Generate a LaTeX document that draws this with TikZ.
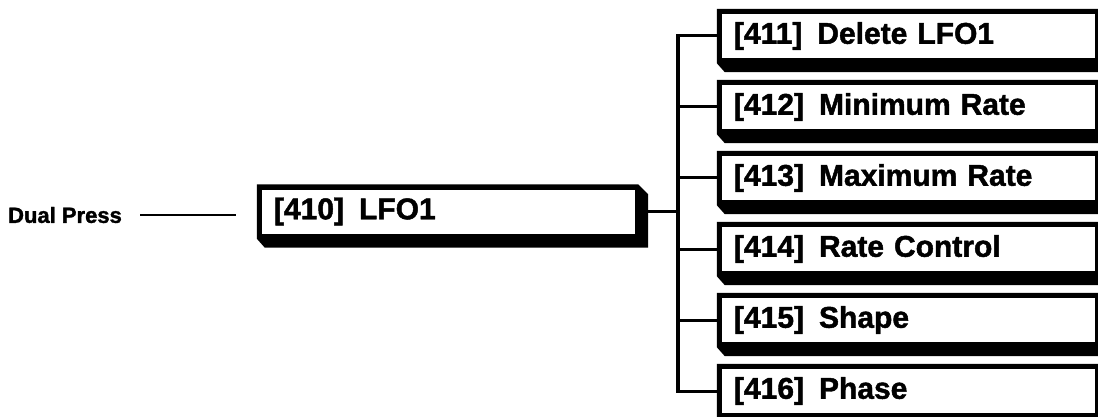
\documentclass[tikz,border=0pt]{standalone}
\usepackage{fontspec}
\setmainfont{Liberation Sans}[BoldFeatures={FakeBold=1.5}]
\usetikzlibrary{calc,backgrounds}
\tikzset{
  menubox/.style={fill=white, inner xsep=12pt, inner ysep=0pt,
    text width=349pt, minimum height=44pt, align=left, anchor=center,
    font=\fontsize{30}{32}\selectfont\bfseries},
  label/.style={font=\fontsize{22}{24}\selectfont\bfseries, inner sep=0pt},
  trunk/.style={line width=4pt},
  branch/.style={line width=3pt},
  lead/.style={line width=1.6pt}
}
\newcommand{\extrude}[1]{%
  \fill[black] ($(#1.north west)+(-5,-5)$) -- ($(#1.north east)+(3,-5)$)
    -- ($(#1.north east)+(13,5)$) -- ($(#1.south east)+(13,14)$)
    -- ($(#1.south west)+(3,14)$) -- ($(#1.south west)+(-5,5)$) -- cycle;}
\begin{document}
\begin{tikzpicture}[x=1pt,y=-1pt]
\useasboundingbox (0,0) rectangle (1098,417);
\clip (0,0) rectangle (1098,417);
\node[label] (dp) at (65,215) {Dual Press};
\coordinate (l1) at (140,215);
\coordinate (l2) at (236,215);
\draw[lead] (l1) -- (l2);

\node[menubox] (m) at (448.5,211.5) {[410]\enskip LFO1};
\node[menubox] (c1) at (908.5,36) {[411]\enskip Delete LFO1};
\node[menubox] (c2) at (908.5,107) {[412]\enskip Minimum Rate};
\node[menubox] (c3) at (908.5,178) {[413]\enskip Maximum Rate};
\node[menubox] (c4) at (908.5,249) {[414]\enskip Rate Control};
\node[menubox] (c5) at (908.5,320) {[415]\enskip Shape};
\node[menubox] (c6) at (908.5,391) {[416]\enskip Phase};
\coordinate (v) at (677.5,211.5);

\begin{pgfonlayer}{background}
  \draw[trunk, line cap=rect] (c1.west -| v) -- (c6.west -| v);
  \draw[branch] (m.east) -- (v);
  \foreach \c in {c1,c2,c3,c4,c5,c6} {
    \draw[branch] (\c.west -| v) -- (\c.west);
  }
  \extrude{m}
  \foreach \c in {c1,c2,c3,c4,c5,c6} {\extrude{\c}}
\end{pgfonlayer}
\end{tikzpicture}
\end{document}
